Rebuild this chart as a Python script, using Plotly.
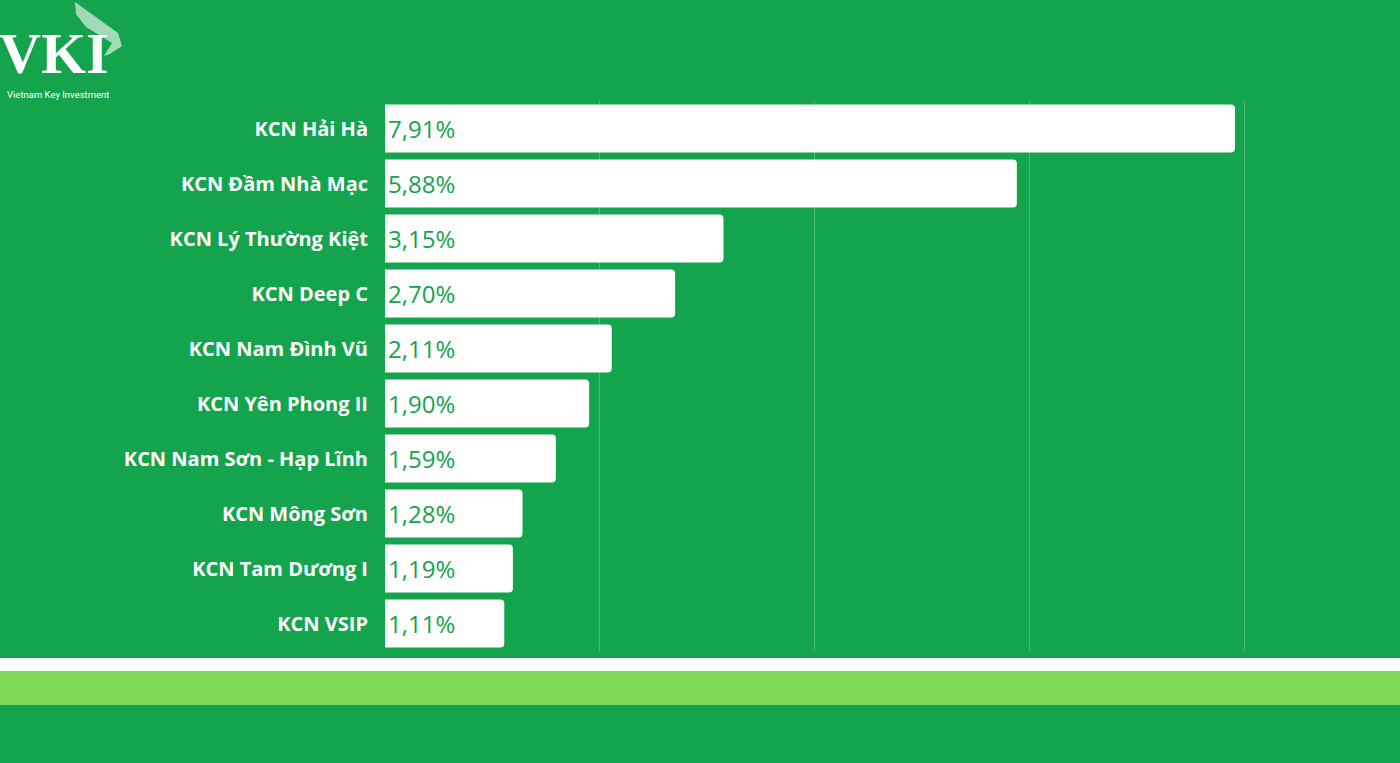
import plotly.graph_objects as go

categories = ["KCN Hải Hà", "KCN Đầm Nhà Mạc", "KCN Lý Thường Kiệt", "KCN Deep C",
              "KCN Nam Đình Vũ", "KCN Yên Phong II", "KCN Nam Sơn - Hạp Lĩnh",
              "KCN Mông Sơn", "KCN Tam Dương I", "KCN VSIP"]
values = [7.91, 5.88, 3.15, 2.70, 2.11, 1.90, 1.59, 1.28, 1.19, 1.11]
value_labels = ["7,91%", "5,88%", "3,15%", "2,70%", "2,11%", "1,90%", "1,59%", "1,28%", "1,19%", "1,11%"]

BG = "#14a44d"
W, H = 1400, 763
L, R, T, B = 385, 150, 101, 112
pw, ph = W - L - R, H - T - B

def px(x):
    return (x - L) / pw

def py(y):
    return (H - B - y) / ph

fig = go.Figure(go.Bar(
    x=values, y=categories, orientation="h",
    marker=dict(color="white", line=dict(width=0), cornerradius=4),
    text=value_labels, textposition="inside", insidetextanchor="start",
    textangle=0, constraintext="none",
    textfont=dict(family="Open Sans", size=24, color=BG),
    hoverinfo="skip",
))

shapes = [
    dict(type="rect", xref="paper", yref="paper", x0=px(0), x1=px(W), y0=py(671), y1=py(658),
         fillcolor="white", line=dict(width=0), layer="below"),
    dict(type="rect", xref="paper", yref="paper", x0=px(0), x1=px(W), y0=py(705), y1=py(671),
         fillcolor="#7ed957", line=dict(width=0), layer="below"),
]

# logo leaf
pts = [(75, 2), (118, 33), (122, 46), (110, 54), (104, 56), (112, 43), (86, 27), (76, 14)]
path = "M " + " L ".join(f"{px(x)} {py(y)}" for x, y in pts) + " Z"
shapes.append(dict(type="path", xref="paper", yref="paper", path=path,
                   fillcolor="rgba(255,255,255,0.6)", line=dict(width=0)))

annotations = [
    dict(text="VKI", xref="paper", yref="paper", x=px(-3), y=py(88), xanchor="left", yanchor="bottom",
         showarrow=False, font=dict(family="Liberation Serif", size=58, color="white", weight="bold")),
    dict(text="Vietnam Key Investment", xref="paper", yref="paper", x=px(5), y=py(95),
         xanchor="left", yanchor="middle", showarrow=False,
         font=dict(family="Roboto", size=9.5, color="white")),
]

fig.update_layout(
    width=W, height=H,
    margin=dict(l=L, r=R, t=T, b=B, pad=0),
    paper_bgcolor=BG, plot_bgcolor=BG,
    bargap=0.127,
    showlegend=False,
    shapes=shapes,
    annotations=annotations,
    xaxis=dict(range=[0, 8.05], tickvals=[2, 4, 6, 8], showgrid=True,
               gridcolor="rgba(255,255,255,0.25)",
               gridwidth=1, zeroline=False, showticklabels=False, showline=False, fixedrange=True),
    yaxis=dict(autorange="reversed", showgrid=False, zeroline=False, showline=False,
               ticks="", ticklabelstandoff=16,
               tickfont=dict(family="Open Sans", size=20, color="white", weight="bold")),
)

fig.write_html("out.html")
